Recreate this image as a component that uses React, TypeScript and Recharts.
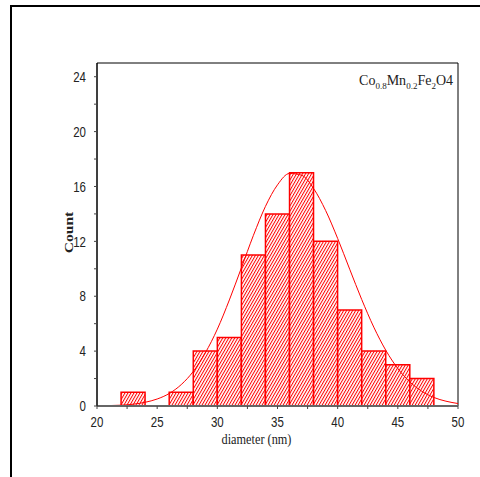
import React from "react";
import {
  ComposedChart,
  Bar,
  Line,
  XAxis,
  YAxis,
  ReferenceArea,
  Label,
} from "recharts";

// histogram bins (nm), 2 nm wide
const binStarts = [20, 22, 24, 26, 28, 30, 32, 34, 36, 38, 40, 42, 44, 46, 48];
const counts = [0, 1, 0, 1, 4, 5, 11, 14, 17, 12, 7, 4, 3, 2, 0];

// fitted distribution curve
const fitX = [
  20, 21, 22, 23, 24, 25, 26, 27, 28, 29, 30, 31, 32, 33, 34, 35, 36, 37, 38,
  39, 40, 41, 42, 43, 44, 45, 46, 47, 48, 49, 50,
];
const fitY = [
  0.01, 0.03, 0.06, 0.13, 0.27, 0.51, 0.91, 1.56, 2.52, 3.87, 5.6, 7.73, 10.07,
  12.44, 14.55, 16.12, 16.95, 16.82, 15.85, 14.25, 12.21, 9.97, 7.76, 5.75,
  4.06, 2.73, 1.75, 1.07, 0.62, 0.35, 0.18,
];

const xTicks = [20, 22.5, 25, 27.5, 30, 32.5, 35, 37.5, 40, 42.5, 45, 47.5, 50];
const yTicks = [0, 2, 4, 6, 8, 10, 12, 14, 16, 18, 20, 22, 24];

const RED = "#ff0000";
const SANS = "'Liberation Sans', Arial, sans-serif";
const SERIF = "'Liberation Serif', 'Times New Roman', serif";

const binData = binStarts.map((s, i) => ({ bin: `${s}-${s + 2}`, count: counts[i] }));
const fitData = fitX.map((x, i) => ({ x, y: fitY[i] }));

const YTick = (props: any) => {
  const { x, y, payload } = props;
  if (payload.value % 4 !== 0) return <g />;
  return (
    <g transform={`translate(${x},${y}) scale(1,1.3)`}>
      <text x={0} y={0} dy="0.35em" textAnchor="end" fontSize={11.5} fill="#222" fontFamily={SANS}>
        {payload.value}
      </text>
    </g>
  );
};

const XTick = (props: any) => {
  const { x, y, payload } = props;
  if (payload.value % 5 !== 0) return <g />;
  return (
    <g transform={`translate(${x},${y}) scale(1,1.3)`}>
      <text x={0} y={0} dy="0.71em" textAnchor="middle" fontSize={11.5} fill="#222" fontFamily={SANS}>
        {payload.value}
      </text>
    </g>
  );
};

export default function App() {
  return (
    <div
      style={{
        position: "absolute",
        left: 0,
        top: 0,
        width: 480,
        height: 477,
        overflow: "hidden",
        background: "#fff",
      }}
    >
      <div
        style={{
          position: "absolute",
          left: 10,
          top: 5,
          width: 500,
          height: 500,
          border: "2px solid #000",
        }}
      />
      <div style={{ position: "absolute", left: 0, top: 0 }}>
        <ComposedChart
          width={480}
          height={477}
          data={binData}
          margin={{ top: 63, right: 22, bottom: 31, left: 47 }}
          barCategoryGap={0}
          barGap={0}
        >
          <defs>
            <pattern
              id="hatch"
              patternUnits="userSpaceOnUse"
              width={2.6}
              height={6}
              patternTransform="rotate(30)"
            >
              <rect width={2.6} height={6} fill="#fff" />
              <line x1={0.5} y1={0} x2={0.5} y2={6} stroke={RED} strokeWidth={1} />
            </pattern>
          </defs>
          <XAxis xAxisId="bins" dataKey="bin" hide height={0} />
          <XAxis
            xAxisId="x"
            type="number"
            dataKey="x"
            domain={[20, 50]}
            ticks={xTicks}
            allowDataOverflow
            height={40}
            tickSize={3}
            tickMargin={7}
            tick={<XTick />}
            axisLine={{ stroke: "#666", strokeWidth: 2 }}
            tickLine={{ stroke: "#444" }}
          >
            <Label
              content={(p: any) => {
                const vb = p.viewBox;
                return (
                  <g transform={`translate(${vb.x + vb.width / 2 - 21},${vb.y + 38}) scale(1,1.25)`}>
                    <text x={0} y={0} textAnchor="middle" fontSize={12.3} fill="#222" fontFamily={SERIF}>
                      diameter (nm)
                    </text>
                  </g>
                );
              }}
            />
          </XAxis>
          <YAxis
            type="number"
            domain={[0, 25]}
            ticks={yTicks}
            allowDataOverflow
            width={50}
            tickSize={3}
            tickMargin={8}
            tick={<YTick />}
            axisLine={{ stroke: "#000" }}
            tickLine={{ stroke: "#444" }}
          >
            <Label
              content={(p: any) => {
                const vb = p.viewBox;
                return (
                  <g transform={`translate(${vb.x + 22},${vb.y + vb.height / 2 - 2}) scale(1,1.3) rotate(-90)`}>
                    <text
                      x={0}
                      y={0}
                      textAnchor="middle"
                      dominantBaseline="central"
                      fontSize={12}
                      fontWeight="bold"
                      fill="#222"
                      fontFamily={SERIF}
                    >
                      Count
                    </text>
                  </g>
                );
              }}
            />
          </YAxis>
          <ReferenceArea
            xAxisId="x"
            x1={20}
            x2={50}
            y1={0}
            y2={25}
            fill="none"
            stroke="#000"
            strokeWidth={1}
          />
          <Bar
            xAxisId="bins"
            dataKey="count"
            fill="url(#hatch)"
            stroke={RED}
            strokeWidth={1.5}
            isAnimationActive={false}
          />
          <Line
            xAxisId="x"
            data={fitData}
            dataKey="y"
            type="monotone"
            stroke={RED}
            strokeWidth={1}
            dot={false}
            activeDot={false}
            isAnimationActive={false}
          />
        </ComposedChart>
      </div>
      <div
        style={{
          position: "absolute",
          left: 300,
          top: 73,
          width: 153,
          textAlign: "right",
          fontFamily: SERIF,
          fontSize: 14,
          lineHeight: "16px",
          color: "#222",
          whiteSpace: "nowrap",
        }}
      >
        Co<span style={{ fontSize: 9, position: "relative", top: 4 }}>0.8</span>Mn
        <span style={{ fontSize: 9, position: "relative", top: 4 }}>0.2</span>Fe
        <span style={{ fontSize: 9, position: "relative", top: 4 }}>2</span>O4
      </div>
    </div>
  );
}
